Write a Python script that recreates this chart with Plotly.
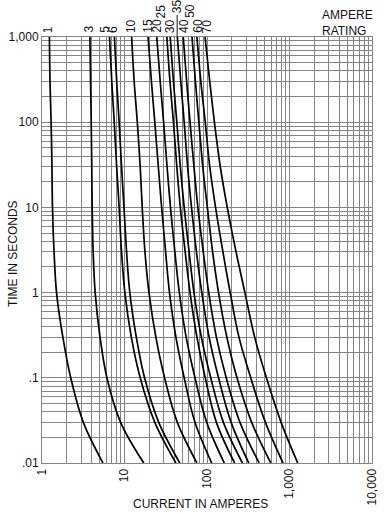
import plotly.graph_objects as go

# Time levels (seconds) at which each curve's current was read
times = [1000, 300, 100, 30, 10, 3, 1, 0.3, 0.1, 0.03, 0.01]

# Current (amperes) per ampere rating at the time levels above
c1 = [1.23, 1.25, 1.29, 1.32, 1.34, 1.40, 1.50, 1.79, 2.23, 3.17, 5.48]
c3 = [3.81, 3.88, 3.95, 4.01, 4.06, 4.17, 4.41, 5.05, 6.12, 8.97, 17.1]
c5 = [6.58, 7.01, 7.51, 8.04, 8.61, 9.21, 10.1, 12.1, 15.5, 23.3, 42.0]
c6 = [7.55, 8.04, 8.61, 9.21, 9.86, 10.6, 11.6, 13.9, 17.5, 26.0, 46.8]
c10 = [12.2, 13.1, 14.3, 15.5, 16.4, 17.7, 19.8, 24.0, 30.6, 43.7, 75.5]
c15 = [19.3, 21.2, 23.3, 25.7, 28.2, 31.5, 35.1, 42.0, 52.9, 71.5, 114]
c20 = [24.6, 27.1, 29.8, 32.8, 36.1, 40.8, 46.2, 55.9, 71.5, 99.2, 162]
c25 = [32.6, 35.6, 39.2, 43.1, 47.5, 54.4, 62.3, 75.5, 95.2, 130, 216]
c30 = [35.8, 39.2, 43.1, 47.5, 52.9, 60.7, 69.5, 85.4, 111, 158, 269]
c35 = [43.7, 48.1, 52.9, 58.2, 64.9, 74.5, 86.5, 106, 138, 196, 321]
c40 = [51.5, 56.7, 62.3, 69.5, 77.5, 90.1, 105, 130, 171, 251, 428]
c50 = [65.8, 72.4, 79.7, 88.9, 101, 117, 138, 174, 231, 348, 593]
c60 = [75.5, 84.2, 95.2, 108, 127, 156, 191, 244, 339, 511, 835]
c70 = [94.7, 108, 123, 145, 176, 225, 288, 378, 525, 791, 1258]

ratings = ["1", "3", "5", "6", "10", "15", "20", "25", "30", "35", "40", "50", "60", "70"]
curves = [c1, c3, c5, c6, c10, c15, c20, c25, c30, c35, c40, c50, c60, c70]

x_tickvals = [1, 10, 100, 1000, 10000]
x_ticktext = ["1", "10", "100", "1,000", "10,000"]
y_tickvals = [0.01, 0.1, 1, 10, 100, 1000]
y_ticktext = [".01", ".1", "1", "10", "100", "1,000"]

FONT = "Liberation Sans, Arial, sans-serif"
GRID = "#858585"
W, H = 387, 514
L, R, T, B = 42, 8, 37, 51
PW, PH = W - L - R, H - T - B

fig = go.Figure()
for name, cur in zip(ratings, curves):
    fig.add_trace(go.Scatter(x=cur, y=times, mode="lines", name=name,
                             line=dict(color="#000000", width=1.7, shape="spline", smoothing=1.0),
                             showlegend=False, hoverinfo="skip"))

# label pixel positions (center x, bottom y) in image coords
label_px = {"1": (49, 35), "3": (90, 35), "5": (106.7, 35), "6": (115, 35), "10": (133, 35),
            "15": (150, 35), "20": (159, 35), "25": (164, 20), "30": (173, 35), "35": (180, 15),
            "40": (187, 35), "50": (193, 20), "60": (201, 35), "70": (211, 35)}

def px2paper(px, py):
    return (px - L) / PW, (H - B - py) / PH

annotations = []
for name in ratings:
    px, py = label_px[name]
    xp, yp = px2paper(px, py)
    annotations.append(dict(x=xp, y=yp, xref="paper", yref="paper", text=name, showarrow=False,
                            textangle=-90, xanchor="center", yanchor="bottom",
                            font=dict(family=FONT, size=12, color="#111111")))

# axis titles and header
xt, yt = px2paper(203.5, 504)
annotations.append(dict(x=xt, y=yt, xref="paper", yref="paper", text="CURRENT IN AMPERES",
                        showarrow=False, xanchor="center", yanchor="middle",
                        font=dict(family=FONT, size=12, color="#111111")))
xt, yt = px2paper(12.5, 254)
annotations.append(dict(x=xt, y=yt, xref="paper", yref="paper", text="TIME IN SECONDS",
                        showarrow=False, textangle=-90, xanchor="center", yanchor="middle",
                        font=dict(family=FONT, size=12, color="#111111")))
for txt, ypx in (("AMPERE", 15.3), ("RATING", 31.2)):
    xt, yt = px2paper(326, ypx)
    annotations.append(dict(x=xt, y=yt, xref="paper", yref="paper", text=txt,
                            showarrow=False, xanchor="left", yanchor="middle", align="left",
                            font=dict(family=FONT, size=12, color="#111111")))

# leader line for the raised "35" label
x0, y0 = px2paper(180, 15)
x1, y1 = px2paper(180, 37)
shapes = [dict(type="line", xref="paper", yref="paper", x0=x0, y0=y0, x1=x1, y1=y1,
               line=dict(color="#111111", width=1))]

axis_common = dict(type="log", showgrid=True, gridcolor=GRID, gridwidth=1,
                   showline=True, linecolor=GRID, linewidth=1, mirror=True,
                   zeroline=False, ticks="",
                   tickfont=dict(family=FONT, size=12, color="#111111"),
                   minor=dict(dtick="D1", showgrid=True, gridcolor=GRID, gridwidth=1, ticks=""))

fig.update_xaxes(**axis_common, range=[0, 4], tickvals=x_tickvals, ticktext=x_ticktext,
                 tickangle=-90)
fig.update_yaxes(**axis_common, range=[-2, 3], tickvals=y_tickvals, ticktext=y_ticktext)

fig.update_layout(width=W, height=H, margin=dict(l=L, r=R, t=T, b=B, pad=0),
                  paper_bgcolor="white", plot_bgcolor="white",
                  annotations=annotations, shapes=shapes,
                  font=dict(family=FONT, size=12, color="#111111"))

fig.write_html("out.html", config={"displayModeBar": False, "staticPlot": True},
               post_script="document.body.style.margin='0';"
                           "document.documentElement.style.overflow='hidden';")
